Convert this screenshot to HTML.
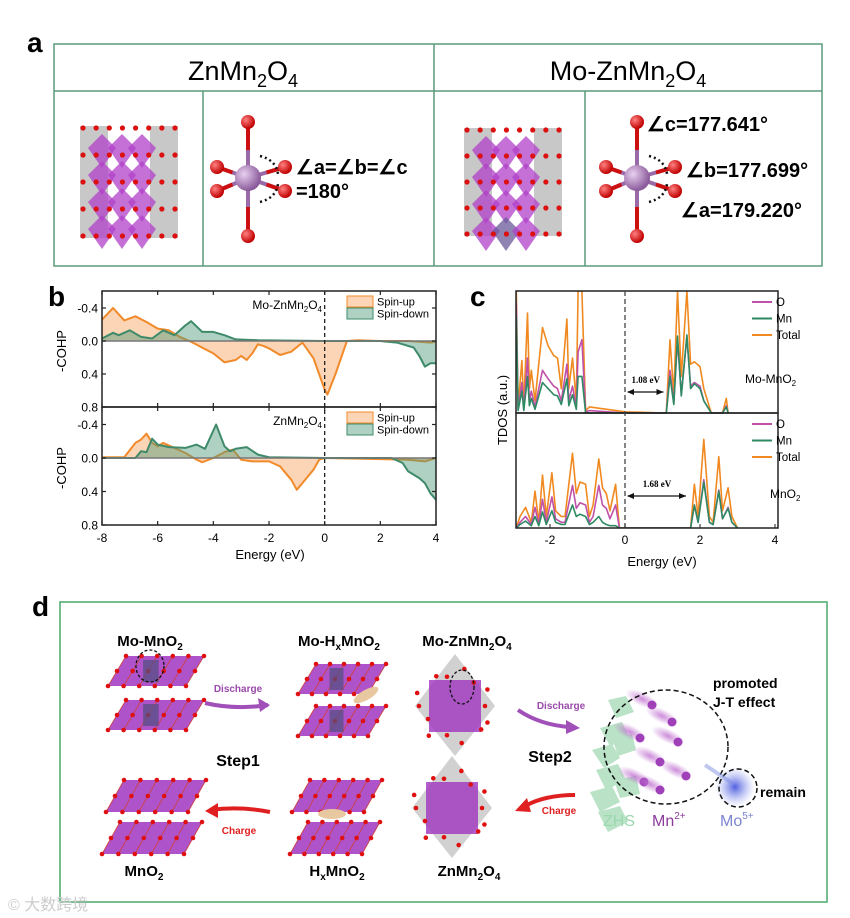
<!DOCTYPE html>
<html><head><meta charset="utf-8"><style>
html,body{margin:0;padding:0;background:#fff;}
svg{display:block;font-family:"Liberation Sans",Arial,sans-serif;}
</style></head><body>
<svg id="fig" width="850" height="918" viewBox="0 0 850 918" xmlns="http://www.w3.org/2000/svg">
<defs>
<radialGradient id="gO" cx="35%" cy="35%" r="65%"><stop offset="0" stop-color="#ff8080"/><stop offset="1" stop-color="#c00000"/></radialGradient>
<radialGradient id="gMn" cx="35%" cy="35%" r="65%"><stop offset="0" stop-color="#e8d0f0"/><stop offset="1" stop-color="#8a5a9a"/></radialGradient>
<radialGradient id="gBlob" cx="50%" cy="50%" r="50%"><stop offset="0" stop-color="#c070d0" stop-opacity="0.8"/><stop offset="1" stop-color="#c070d0" stop-opacity="0"/></radialGradient>
<radialGradient id="gMo" cx="50%" cy="50%" r="50%"><stop offset="0" stop-color="#5060e0"/><stop offset="1" stop-color="#a0a8f0" stop-opacity="0"/></radialGradient>
</defs>

<!-- Panel a -->
<g>
<text x="27" y="52" font-size="28" font-weight="bold">a</text>
<rect x="54" y="44" width="768" height="222" fill="none" stroke="#5a9a7a" stroke-width="1.5"/>
<line x1="54" y1="91" x2="822" y2="91" stroke="#5a9a7a" stroke-width="1.5"/>
<line x1="434" y1="44" x2="434" y2="266" stroke="#5a9a7a" stroke-width="1.5"/>
<line x1="203" y1="91" x2="203" y2="266" stroke="#5a9a7a" stroke-width="1.5"/>
<line x1="585" y1="91" x2="585" y2="266" stroke="#5a9a7a" stroke-width="1.5"/>
<text x="243" y="80" font-size="27" text-anchor="middle">ZnMn<tspan font-size="18" dy="7">2</tspan><tspan dy="-7">O</tspan><tspan font-size="18" dy="7">4</tspan></text>
<text x="628" y="80" font-size="27" text-anchor="middle">Mo-ZnMn<tspan font-size="18" dy="7">2</tspan><tspan dy="-7">O</tspan><tspan font-size="18" dy="7">4</tspan></text>
<g id="structA1"></g>
<g id="structA2"></g>
<g id="octA1"></g>
<g id="octA2"></g>
<text x="296" y="174" font-size="20" font-weight="bold">∠a=∠b=∠c</text>
<text x="296" y="198" font-size="20" font-weight="bold">=180°</text>
<text x="647" y="131" font-size="20" font-weight="bold">∠c=177.641°</text>
<text x="686" y="177" font-size="20" font-weight="bold">∠b=177.699°</text>
<text x="681" y="217" font-size="20" font-weight="bold">∠a=179.220°</text>
</g>

<!-- Panel b -->
<g id="panelB">
<text x="48" y="306" font-size="28" font-weight="bold">b</text>
</g>
<!-- Panel c -->
<g id="panelC">
<text x="470" y="306" font-size="28" font-weight="bold">c</text>
</g>

<!-- Panel d -->
<g id="panelD">
<text x="32" y="616" font-size="28" font-weight="bold">d</text>
<rect x="60" y="602" width="767" height="300" fill="none" stroke="#4aa86a" stroke-width="1.5"/>
<g id="dStructs"></g>
<g font-size="15" text-anchor="middle" font-weight="bold">
<text x="150" y="646">Mo-MnO<tspan font-size="10" dy="4">2</tspan></text>
<text x="339" y="646">Mo-H<tspan font-size="10" dy="4">x</tspan><tspan dy="-4">MnO</tspan><tspan font-size="10" dy="4">2</tspan></text>
<text x="467" y="646">Mo-ZnMn<tspan font-size="10" dy="4">2</tspan><tspan dy="-4">O</tspan><tspan font-size="10" dy="4">4</tspan></text>
<text x="144" y="876">MnO<tspan font-size="10" dy="4">2</tspan></text>
<text x="337" y="876">H<tspan font-size="10" dy="4">x</tspan><tspan dy="-4">MnO</tspan><tspan font-size="10" dy="4">2</tspan></text>
<text x="469" y="876">ZnMn<tspan font-size="10" dy="4">2</tspan><tspan dy="-4">O</tspan><tspan font-size="10" dy="4">4</tspan></text>
<text x="238" y="766" font-size="16">Step1</text>
<text x="550" y="762" font-size="16">Step2</text>
</g>
<g font-size="10" font-weight="bold" text-anchor="middle">
<text x="238" y="692" fill="#9a4aaa">Discharge</text>
<text x="561" y="709" fill="#9a4aaa">Discharge</text>
<text x="239" y="834" fill="#e02020">Charge</text>
<text x="559" y="814" fill="#e02020">Charge</text>
</g>
<path d="M205,703 Q235,710 268,705" fill="none" stroke="#a050b8" stroke-width="4"/>
<polygon points="270,705 258,698 260,712" fill="#a050b8"/>
<path d="M518,710 Q540,725 570,727" fill="none" stroke="#a050b8" stroke-width="4"/>
<polygon points="580,728 566,720 566,734" fill="#a050b8"/>
<path d="M270,812 Q240,806 210,810" fill="none" stroke="#e02020" stroke-width="4"/>
<polygon points="205,811 218,803 218,818" fill="#e02020"/>
<path d="M575,795 Q545,795 525,806" fill="none" stroke="#e02020" stroke-width="4"/>
<polygon points="515,811 527,798 531,812" fill="#e02020"/>
<!-- ZHS & ions -->
<g fill="#a8dcb8" opacity="0.8">
<polygon points="592,750 612,744 620,758 604,768"/>
<polygon points="596,770 618,764 626,780 606,790"/>
<polygon points="590,792 612,786 620,802 600,812"/>
<polygon points="598,812 620,806 628,822 608,832"/>
<polygon points="600,728 622,722 630,738 610,746"/>
<polygon points="612,738 632,734 636,750 618,756"/>
<polygon points="614,780 636,776 640,794 620,798"/>
<polygon points="608,700 626,696 634,712 616,718"/>
</g>
<g id="ions"></g>
<ellipse cx="666" cy="747" rx="62" ry="57" fill="none" stroke="#111" stroke-width="1.5" stroke-dasharray="5,3"/>
<circle cx="735" cy="787" r="20" fill="url(#gMo)"/>
<circle cx="738" cy="788" r="19" fill="none" stroke="#111" stroke-width="1.5" stroke-dasharray="5,3"/>
<line x1="705" y1="765" x2="732" y2="783" stroke="#8090e0" stroke-width="4" opacity="0.5"/>
<text x="713" y="688" font-size="14" font-weight="bold">promoted</text>
<text x="713" y="707" font-size="14" font-weight="bold">J-T effect</text>
<text x="760" y="797" font-size="14" font-weight="bold">remain</text>
<text x="603" y="826" font-size="16" fill="#9ad8ae">ZHS</text>
<text x="652" y="826" font-size="16" fill="#8a3a9a">Mn<tspan font-size="10" dy="-7">2+</tspan></text>
<text x="720" y="826" font-size="16" fill="#7c84d0">Mo<tspan font-size="10" dy="-7">5+</tspan></text>
</g>
<text x="8" y="910" font-size="16" fill="#ccc">© 大数跨境</text>
</svg>

<script>
// ---------------- Panel b data ----------------
var bTopUpE = [-8,-7.6,-7.2,-6.8,-6.4,-6.0,-5.6,-5.2,-4.8,-4.4,-4.0,-3.6,-3.2,-3.0,-2.8,-2.6,-2.4,-2.2,-2.0,-1.6,-1.2,-0.8,-0.4,0,0.1,0.4,0.8,1.2,2.0,3.0,3.8,4.0];
var bTopUpV = [-0.26,-0.40,-0.25,-0.30,-0.23,-0.15,-0.13,-0.05,0.01,0.08,0.15,0.26,0.23,0.18,0.23,0.15,0.04,0.06,0.09,0.17,0.13,0.02,0.21,0.59,0.65,0.39,0.0,-0.01,0.0,0.0,0.02,0.01];
var bTopDnE = [-8,-7.6,-7.4,-7.0,-6.6,-6.2,-5.8,-5.4,-5.0,-4.8,-4.4,-4.0,-3.6,-3.2,-2.4,0,2.0,2.6,3.0,3.2,3.4,3.6,3.8,4.0];
var bTopDnV = [-0.03,-0.10,-0.07,-0.13,-0.05,-0.03,-0.13,-0.07,-0.19,-0.24,-0.11,-0.11,-0.07,-0.02,-0.01,0,0,0.02,0.06,0.08,0.18,0.31,0.27,0.27];
var bBotUpE = [-8,-7.2,-6.8,-6.6,-6.4,-6.2,-6.0,-5.8,-5.4,-5.0,-4.6,-4.4,-4.0,-3.6,-3.3,-3.0,-2.6,-2.0,-1.6,-1.2,-1.0,-0.8,-0.4,-0.2,0,3.0,3.6,4.0];
var bBotUpV = [-0.01,-0.01,-0.18,-0.22,-0.29,-0.18,-0.14,-0.18,-0.12,-0.06,0.02,0.05,0,-0.07,-0.10,0.02,0.04,0.04,0.10,0.26,0.38,0.30,0.14,0.02,0,0.02,0.04,0.0];
var bBotDnE = [-8,-6.8,-6.6,-6.4,-6.2,-6.0,-5.6,-5.0,-4.6,-4.3,-3.9,-3.6,-3.4,-3.2,-2.8,-2.4,-2.0,0,2.4,2.8,3.0,3.4,3.6,3.8,4.0];
var bBotDnV = [0,0,-0.08,-0.07,-0.23,-0.16,-0.13,-0.12,-0.16,-0.11,-0.40,-0.14,-0.08,-0.11,-0.13,-0.04,-0.01,0,0,0.06,0.16,0.24,0.30,0.42,0.50];
var bXTicks = [-8,-6,-4,-2,0,2,4];
var bYTicks = [-0.4,0.0,0.4,0.8];

// ---------------- Panel c data ----------------
var cTopE = [-3.0,-2.9,-2.85,-2.75,-2.7,-2.6,-2.55,-2.5,-2.4,-2.2,-2.05,-1.9,-1.8,-1.7,-1.55,-1.5,-1.4,-1.3,-1.25,-1.15,-1.05,-0.95,0,1.1,1.2,1.3,1.4,1.5,1.65,1.75,1.85,2.0,2.1,2.3,2.6,2.7,2.75];
var cTopTotal = [1.0,1.0,0.05,0.43,0.05,0.82,0.2,0.35,0.1,0.70,0.55,0.47,0.45,0.2,0.77,0.2,0.45,0.1,1.0,1.0,0.02,0.05,0.01,0,0.6,0.15,1.0,0.3,1.0,0.4,0.42,0.38,0.2,0.0,0,0.12,0];
var cTopO = [0.9,0.9,0.03,0.25,0.03,0.45,0.1,0.18,0.05,0.35,0.28,0.22,0.2,0.1,0.4,0.1,0.22,0.05,0.5,0.6,0.01,0.02,0.0,0,0.35,0.08,0.6,0.15,0.62,0.22,0.25,0.22,0.1,0.0,0,0.06,0];
var cTopMn = [0.8,0.8,0.02,0.18,0.02,0.3,0.06,0.12,0.03,0.25,0.2,0.15,0.14,0.07,0.28,0.06,0.15,0.03,0.3,0.3,0.0,0.0,0.0,0,0.3,0.07,0.63,0.14,0.64,0.2,0.24,0.2,0.1,0.0,0,0.05,0];
var cBotE = [-3.0,-2.9,-2.8,-2.65,-2.5,-2.4,-2.3,-2.2,-2.1,-1.95,-1.85,-1.7,-1.6,-1.4,-1.3,-1.2,-1.05,-0.95,-0.85,-0.7,-0.6,-0.5,-0.4,-0.25,-0.15,1.75,1.85,1.95,2.1,2.25,2.35,2.5,2.6,2.75,2.85,3.0];
var cBotTotal = [0.35,0.0,0.1,0.18,0.05,0.32,0.05,0.46,0.1,0.48,0.15,0.1,0.1,0.65,0.3,0.4,0.38,0.1,0.2,0.6,0.35,0.3,0.15,0.38,0.0,0,0.38,0.1,0.77,0.1,0.05,0.62,0.15,0.35,0.1,0.0];
var cBotO = [0.2,0.0,0.05,0.1,0.03,0.18,0.03,0.25,0.05,0.27,0.08,0.05,0.05,0.37,0.17,0.22,0.2,0.05,0.1,0.37,0.2,0.17,0.08,0.2,0.0,0,0.2,0.05,0.42,0.05,0.03,0.33,0.08,0.18,0.05,0.0];
var cBotMn = [0.12,0.0,0.03,0.06,0.02,0.1,0.02,0.14,0.03,0.15,0.05,0.03,0.03,0.2,0.1,0.12,0.1,0.03,0.05,0.1,0.05,0.03,0.02,0.02,0.0,0,0.2,0.05,0.4,0.05,0.03,0.32,0.08,0.17,0.05,0.0];
var cXTicks = [-2,0,2,4];
var cGaps = [1.08,1.68];
var cGapLabels = ['1.08 eV','1.68 eV'];

var NS = 'http://www.w3.org/2000/svg';
function mk(tag, attrs, parent){ var e=document.createElementNS(NS,tag); for(var k in attrs){e.setAttribute(k,attrs[k]);} if(parent) parent.appendChild(e); return e; }
function txt(s, attrs, parent){ var e=mk('text',attrs,parent); e.textContent=s; return e; }

// ---------- Panel b ----------
(function(){
  var g=document.getElementById('panelB');
  var L=102,R=436;
  var xs=function(E){return L+(E+8)/12*(R-L);};
  var panels=[{top:291,zero:341,arrUpE:bTopUpE,arrUpV:bTopUpV,arrDnE:bTopDnE,arrDnV:bTopDnV,bot:407,name:'top',label:'Mo-ZnMn',lx:322},
              {top:407,zero:458,arrUpE:bBotUpE,arrUpV:bBotUpV,arrDnE:bBotDnE,arrDnV:bBotDnV,bot:525,name:'bottom',label:'ZnMn',lx:322}];
  panels.forEach(function(p){
    var ys=function(v){return p.zero+v/0.4*((p.bot-p.zero)/2);};
    function area(E,V,fill,stroke,nm){
      var d='M'+xs(E[0])+','+ys(0);
      var l='';
      for(var i=0;i<E.length;i++){ d+=' L'+xs(E[i]).toFixed(1)+','+ys(V[i]).toFixed(1); l+=(i?' L':'M')+xs(E[i]).toFixed(1)+','+ys(V[i]).toFixed(1);}
      d+=' L'+xs(E[E.length-1])+','+ys(0)+' Z';
      var a=mk('path',{d:d,fill:fill,'fill-opacity':0.45,stroke:'none'},g);
      
      
      var ln=mk('path',{d:l,fill:'none',stroke:stroke,'stroke-width':2,'stroke-linejoin':'round'},g);
      
      
    }
    area(p.arrUpE,p.arrUpV,'#f7a25a','#f08a2a','spin-up');
    area(p.arrDnE,p.arrDnV,'#4e9a7a','#3e8a6a','spin-down');
    mk('line',{x1:L,x2:R,y1:ys(0),y2:ys(0),stroke:'#777','stroke-width':1.5},g);
    var fr=mk('rect',{x:L,y:p.top,width:R-L,height:p.bot-p.top,fill:'none',stroke:'#222','stroke-width':1.5},g);
    
    
    bYTicks.forEach(function(t){
      var y=ys(t);
      mk('line',{x1:L,x2:L+4,y1:y,y2:y,stroke:'#222','stroke-width':1.2},g);
      mk('line',{x1:R,x2:R-4,y1:y,y2:y,stroke:'#222','stroke-width':1.2},g);
      var tl=txt(t.toFixed(1),{x:L-4,y:y+4.5,'font-size':12,'text-anchor':'end'},g);
      
      
    });
    bXTicks.forEach(function(t){
      mk('line',{x1:xs(t),x2:xs(t),y1:p.bot,y2:p.bot-4,stroke:'#222','stroke-width':1.2},g);
      mk('line',{x1:xs(t),x2:xs(t),y1:p.top,y2:p.top+4,stroke:'#222','stroke-width':1.2},g);
    });
    var yt=txt('-COHP',{x:0,y:0,'font-size':13,'text-anchor':'middle',transform:'translate(66,'+((p.top+p.bot)/2+2)+') rotate(-90)'},g);
    
    
    var lbl=mk('text',{x:p.lx,y:p.top+18,'font-size':12,'text-anchor':'end'},g);
    lbl.innerHTML=p.label+'<tspan font-size="8" dy="3">2</tspan><tspan dy="-3">O</tspan><tspan font-size="8" dy="3">4</tspan>';
    
    
    [['Spin-up','#f7a25a','#f08a2a'],['Spin-down','#4e9a7a','#3e8a6a']].forEach(function(s,i){
      var yy=p.top+5+i*12;
      mk('rect',{x:347,y:yy,width:26,height:11,fill:s[1],'fill-opacity':0.45,stroke:s[2],'stroke-width':1},g);
      var lt=txt(s[0],{x:377,y:yy+9.5,'font-size':11},g);
      
      
    });
  });
  mk('line',{x1:xs(0),x2:xs(0),y1:291,y2:525,stroke:'#222','stroke-width':1.3,'stroke-dasharray':'4,3'},g);
  bXTicks.forEach(function(t){
    var tl=txt(String(t),{x:xs(t),y:542,'font-size':12,'text-anchor':'middle'},g);
    
    
  });
  var xt=txt('Energy (eV)',{x:270,y:559,'font-size':13,'text-anchor':'middle'},g);
  
  
})();

// ---------- Panel c ----------
(function(){
  var g=document.getElementById('panelC');
  var L=516,R=778;
  var xs=function(E){return 625+E*37.5;};
  var cp=mk('clipPath',{id:'cclip'},g); mk('rect',{x:L,y:291,width:R-L,height:237},cp);
  var panels=[{top:291,bot:413,E:cTopE,T:cTopTotal,O:cTopO,M:cTopMn,name:'mo-mno2'},
              {top:413,bot:528,E:cBotE,T:cBotTotal,O:cBotO,M:cBotMn,name:'mno2'}];
  panels.forEach(function(p){
    var ys=function(v){return p.bot-v*(p.bot-p.top);};
    var cg=mk('g',{'clip-path':'url(#cclip)'},g);
    [['total',p.T,'#f08a20'],['o',p.O,'#c050a8'],['mn',p.M,'#2e8a62']].forEach(function(s){
      var d='';
      for(var i=0;i<p.E.length;i++){ d+=(i?' L':'M')+xs(p.E[i]).toFixed(1)+','+Math.max(p.top-6,ys(s[1][i])).toFixed(1);}
      var ln=mk('path',{d:d,fill:'none',stroke:s[2],'stroke-width':1.6,'stroke-linejoin':'round'},cg);
      
      
    });
    var fr=mk('rect',{x:L,y:p.top,width:R-L,height:p.bot-p.top,fill:'none',stroke:'#222','stroke-width':1.5},g);
    
    
    [['O','#c050a8'],['Mn','#2e8a62'],['Total','#f08a20']].forEach(function(s,i){
      var yy=p.top+11+i*16.5;
      mk('line',{x1:752,x2:772,y1:yy,y2:yy,stroke:s[1],'stroke-width':2},g);
      var lt=txt(s[0],{x:776,y:yy+4,'font-size':11.5},g);
      
      
    });
  });
  mk('line',{x1:625,x2:625,y1:291,y2:528,stroke:'#444','stroke-width':1.3,'stroke-dasharray':'5,3'},g);
  cXTicks.forEach(function(t){
    mk('line',{x1:xs(t),x2:xs(t),y1:528,y2:524,stroke:'#222'},g);
    var tl=txt(String(t),{x:xs(t),y:544,'font-size':12,'text-anchor':'middle'},g);
    
    
  });
  var xt=txt('Energy (eV)',{x:662,y:566,'font-size':13,'text-anchor':'middle'},g);
  
  
  var yt=txt('TDOS (a.u.)',{x:0,y:0,'font-size':13,'text-anchor':'middle',transform:'translate(507,410) rotate(-90)'},g);
  
  
  var l1=mk('text',{x:745,y:383,'font-size':12},g); l1.innerHTML='Mo-MnO<tspan font-size="8" dy="3">2</tspan>';
   
  var l2=mk('text',{x:770,y:498,'font-size':12},g); l2.innerHTML='MnO<tspan font-size="8" dy="3">2</tspan>';
   
  var gapY=[392,496];
  cGaps.forEach(function(gv,k){
    var y=gapY[k];
    var x2=xs(gv)-2;
    mk('line',{x1:628,x2:x2,y1:y,y2:y,stroke:'#111','stroke-width':1.3},g);
    mk('polygon',{points:'627,'+y+' 634,'+(y-3)+' 634,'+(y+3),fill:'#111'},g);
    mk('polygon',{points:x2+','+y+' '+(x2-7)+','+(y-3)+' '+(x2-7)+','+(y+3),fill:'#111'},g);
    var t=txt(cGapLabels[k],{x:(628+x2)/2,y:y-9,'font-size':9,'font-weight':'bold','font-family':'Liberation Serif, serif','text-anchor':'middle'},g);
    
    
  });
})();

// ---------- Structures ----------
function octa(g,cx,cy,dx){
  var bonds=[[0,-56],[0,58],[-31,-11],[-31,13],[dx,-11],[dx,13]];
  bonds.forEach(function(b){
    mk('line',{x1:cx,y1:cy,x2:cx+b[0],y2:cy+b[1],stroke:'#9a6aa8','stroke-width':4},g);
    mk('line',{x1:cx+b[0]*0.5,y1:cy+b[1]*0.5,x2:cx+b[0],y2:cy+b[1],stroke:'#cc1010','stroke-width':4},g);
  });
  mk('circle',{cx:cx,cy:cy,r:13,fill:'url(#gMn)'},g);
  bonds.forEach(function(b){ mk('circle',{cx:cx+b[0],cy:cy+b[1],r:7,fill:'url(#gO)'},g); });
  var d1='M'+(cx+12)+','+(cy-22)+' Q'+(cx+28)+','+(cy-18)+' '+(cx+30)+','+(cy-4);
  var d2='M'+(cx+12)+','+(cy+24)+' Q'+(cx+28)+','+(cy+20)+' '+(cx+30)+','+(cy+6);
  mk('path',{d:d1,fill:'none',stroke:'#111','stroke-width':2.5,'stroke-dasharray':'2,3'},g);
  mk('path',{d:d2,fill:'none',stroke:'#111','stroke-width':2.5,'stroke-dasharray':'2,3'},g);
}
octa(document.getElementById('octA1'),248,178,37);
octa(document.getElementById('octA2'),637,178,38);

function spinel(g,x,y,w,h,mo){
  for(var i=0;i<4;i++){
    var gx=x+(i<2?i*14:w-28+(i-2)*14);
    mk('rect',{x:gx,y:y,width:14,height:h,fill:'#9a9a9a','fill-opacity':0.55},g);
  }
  for(var r=0;r<4;r++){
    for(var c=0;c<3;c++){
      var px=x+22+c*20, py=y+8+r*27;
      mk('polygon',{points:px+','+py+' '+(px+14)+','+(py+14)+' '+px+','+(py+34)+' '+(px-14)+','+(py+14),fill:(mo&&r==3&&c==1)?'#6a5a9a':'#b040c8','fill-opacity':0.75},g);
    }
  }
  for(var r2=0;r2<5;r2++){
    for(var c2=0;c2<8;c2++){
      mk('circle',{cx:x+3+c2*(w-6)/7,cy:y+2+r2*(h-4)/4,r:2.6,fill:'#dd1010'},g);
    }
  }
}
spinel(document.getElementById('structA1'),80,126,98,112,false);
spinel(document.getElementById('structA2'),464,128,98,108,true);

function layer(g,x,y,w,h,mo){
  var sk=18;
  mk('polygon',{points:(x+sk)+','+y+' '+(x+w+sk)+','+y+' '+(x+w)+','+(y+h)+' '+x+','+(y+h),fill:'#a035c0','fill-opacity':0.85},g);
  for(var i=0;i<=5;i++){
    var fx=x+sk+i*w/5, bx=x+i*w/5;
    mk('line',{x1:fx,y1:y,x2:bx,y2:y+h,stroke:'#d04040','stroke-width':0.8},g);
    mk('circle',{cx:fx,cy:y,r:2.3,fill:'#e01010'},g);
    mk('circle',{cx:bx,cy:y+h,r:2.3,fill:'#e01010'},g);
    mk('circle',{cx:(fx+bx)/2,cy:y+h/2,r:2.3,fill:'#e01010'},g);
  }
  if(mo) mk('rect',{x:x+w*0.45,y:y+4,width:w*0.2,height:h-8,fill:'#505080','fill-opacity':0.7},g);
}
function cube(g,cx,cy){
  mk('polygon',{points:cx+','+(cy-52)+' '+(cx+40)+','+cy+' '+cx+','+(cy+50)+' '+(cx-40)+','+cy,fill:'#999','fill-opacity':0.45},g);
  mk('rect',{x:cx-26,y:cy-26,width:52,height:52,fill:'#a035c0','fill-opacity':0.8},g);
  for(var i=0;i<14;i++){
    var a=i/14*Math.PI*2;
    mk('circle',{cx:cx+Math.cos(a)*(30+(i%3)*6),cy:cy+Math.sin(a)*(30+(i%2)*8),r:2.3,fill:'#e01010'},g);
  }
}
(function(){
  var g=document.getElementById('dStructs');
  var s;
  s=mk('g',{},g);  
  layer(s,108,656,78,30,true); layer(s,108,700,78,30,true);
  mk('ellipse',{cx:150,cy:666,rx:14,ry:16,fill:'none',stroke:'#111','stroke-width':1.3,'stroke-dasharray':'3,2'},s);
  s=mk('g',{},g);  
  layer(s,298,664,70,30,true); layer(s,298,706,70,30,true);
  mk('ellipse',{cx:366,cy:695,rx:14,ry:5,fill:'#e8c8a0',transform:'rotate(-30 366 695)'},s);
  s=mk('g',{},g);  
  cube(s,455,706);
  mk('ellipse',{cx:462,cy:687,rx:12,ry:17,fill:'none',stroke:'#111','stroke-width':1.3,'stroke-dasharray':'3,2'},s);
  s=mk('g',{},g);  
  layer(s,106,780,82,32,false); layer(s,102,822,82,32,false);
  s=mk('g',{},g);  
  layer(s,292,780,72,32,false); layer(s,290,822,72,32,false);
  mk('ellipse',{cx:332,cy:814,rx:14,ry:5,fill:'#e8c8a0'},s);
  s=mk('g',{},g);  
  cube(s,452,808);
  var ions=document.getElementById('ions');
  [[652,705],[672,722],[640,738],[678,742],[660,762],[644,782],[686,776],[660,790]].forEach(function(p){
    mk('ellipse',{cx:p[0]-10,cy:p[1]-6,rx:18,ry:7,fill:'url(#gBlob)',transform:'rotate(25 '+(p[0]-10)+' '+(p[1]-6)+')'},ions);
    mk('circle',{cx:p[0],cy:p[1],r:4.5,fill:'#a040b8'},ions);
  });
})();
</script>
</body></html>
